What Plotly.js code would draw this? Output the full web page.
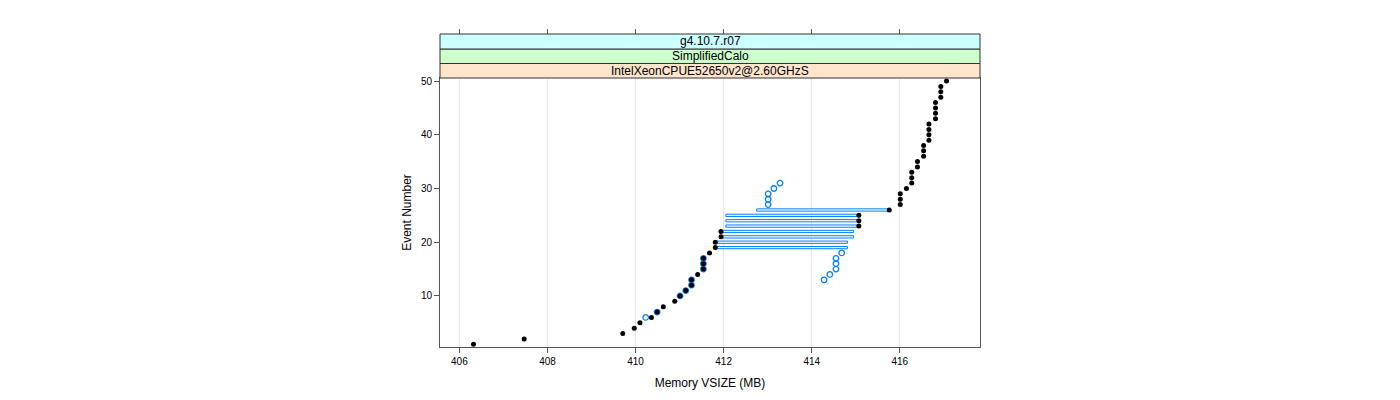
<!DOCTYPE html>
<html>
<head>
<meta charset="utf-8">
<script src="https://cdn.plot.ly/plotly-3.0.1.min.js"></script>
<style>html,body{margin:0;padding:0;background:#fff;}#chart{width:1400px;height:400px;}</style>
</head>
<body>
<div id="chart"></div>
<script>
// Black series: one value per event
const blackEvents = [1,2,3,4,5,6,7,8,9,10,11,12,13,14,15,16,17,18,19,20,21,22,23,24,25,26,27,28,29,30,31,32,33,34,35,36,37,38,39,40,41,42,43,44,45,46,47,48,49,50];
const blackVsize = [406.32,407.47,409.71,409.97,410.10,410.36,410.49,410.63,410.89,411.01,411.14,411.27,411.27,411.41,411.54,411.54,411.54,411.68,411.81,411.81,411.94,411.94,415.07,415.07,415.07,415.76,416.01,416.01,416.01,416.15,416.27,416.27,416.27,416.40,416.40,416.54,416.54,416.54,416.66,416.66,416.66,416.66,416.81,416.81,416.81,416.81,416.93,416.93,416.93,417.06];
// Blue series: open circles
const blueEvents = [6,7,10,11,12,13,15,16,17,13,14,15,16,17,18,27,28,29,30,31];
const blueVsize = [410.23,410.49,411.01,411.14,411.27,411.27,411.54,411.54,411.54,414.28,414.41,414.55,414.55,414.55,414.68,413.01,413.01,413.01,413.14,413.28];
// Blue horizontal spans
const spanEvents = [19,20,21,22,23,24,25,26];
const spanStart = [411.84,411.84,411.98,411.98,412.05,412.05,412.05,412.75];
const spanEnd = [414.81,414.81,414.95,414.95,415.07,415.07,415.07,415.76];
// Strip labels (bottom to top)
const stripLabels = ["IntelXeonCPUE52650v2@2.60GHzS","SimplifiedCalo","g4.10.7.r07"];
const stripColors = ["#ffe5cc","#ccffcc","#ccffff"];
const xTicks = [406,408,410,412,414,416];
const yTicks = [10,20,30,40,50];

const FONT = "Liberation Sans, Arial, Helvetica, sans-serif";
const xRange = [405.56, 417.82];
const yRange = [0.5, 50.56];
const panelTop = 0.8594;
const stripEdges = [0.8594, 0.9058, 0.9521, 1.0];

const traces = [
  {
    type: 'bar', orientation: 'h',
    y: spanEvents, base: spanStart,
    x: spanEnd.map((e,i)=>e-spanStart[i]),
    width: 0.42,
    marker: {color: 'rgba(255,255,255,1)', line: {color: '#0080ff', width: 1}},
    hoverinfo: 'skip', showlegend: false
  },
  {
    type: 'scatter', mode: 'markers',
    x: blueVsize, y: blueEvents,
    marker: {symbol: 'circle-open', size: 5.5, color: '#0080ff', line: {width: 1.3, color: '#0080ff'}},
    showlegend: false
  },
  {
    type: 'scatter', mode: 'markers',
    x: blackVsize, y: blackEvents,
    marker: {symbol: 'circle', size: 5, color: '#000000'},
    showlegend: false
  },
  {type: 'scatter', x: [], y: [], xaxis: 'x2', showlegend: false}
];

const shapes = [];
const annotations = [];
for (let i = 0; i < stripLabels.length; i++) {
  shapes.push({type: 'rect', xref: 'paper', yref: 'paper', x0: 0, x1: 1,
    y0: stripEdges[i], y1: stripEdges[i+1],
    fillcolor: stripColors[i], line: {color: '#333333', width: 1}, layer: 'above'});
  annotations.push({xref: 'paper', yref: 'paper', x: 0.5, y: (stripEdges[i]+stripEdges[i+1])/2,
    text: stripLabels[i], showarrow: false, xanchor: 'center', yanchor: 'middle',
    font: {family: FONT, size: 12, color: '#000'}});
}

const layout = {
  width: 1400, height: 400,
  margin: {l: 440, r: 420, t: 34, b: 53},
  paper_bgcolor: '#ffffff', plot_bgcolor: '#ffffff',
  barmode: 'overlay',
  font: {family: FONT, size: 10, color: '#000'},
  xaxis: {
    range: xRange, tickvals: xTicks, ticktext: xTicks.map(String),
    showgrid: true, gridcolor: '#e6e6e6', gridwidth: 1, zeroline: false,
    showline: true, linecolor: '#555555', linewidth: 1, mirror: true,
    ticks: 'outside', ticklen: 5, tickcolor: '#555555',
    tickfont: {family: FONT, size: 10, color: '#000'},
    title: {text: 'Memory VSIZE (MB)', font: {family: FONT, size: 12, color: '#000'}, standoff: 12},
    anchor: 'y'
  },
  xaxis2: {
    overlaying: 'x', side: 'top', anchor: 'free', position: 1,
    range: xRange, tickvals: xTicks, showticklabels: false,
    showgrid: false, zeroline: false, showline: false,
    ticks: 'outside', ticklen: 5, tickcolor: '#555555'
  },
  yaxis: {
    domain: [0, panelTop], range: yRange, tickvals: yTicks, ticktext: yTicks.map(String),
    showgrid: false, zeroline: false,
    showline: true, linecolor: '#555555', linewidth: 1, mirror: true,
    ticks: 'outside', ticklen: 5, tickcolor: '#555555',
    tickfont: {family: FONT, size: 10, color: '#000'},
    title: {text: 'Event Number', font: {family: FONT, size: 12, color: '#000'}, standoff: 6}
  },
  shapes: shapes,
  annotations: annotations
};

Plotly.newPlot('chart', traces, layout, {displayModeBar: false, staticPlot: true});
</script>
</body>
</html>
